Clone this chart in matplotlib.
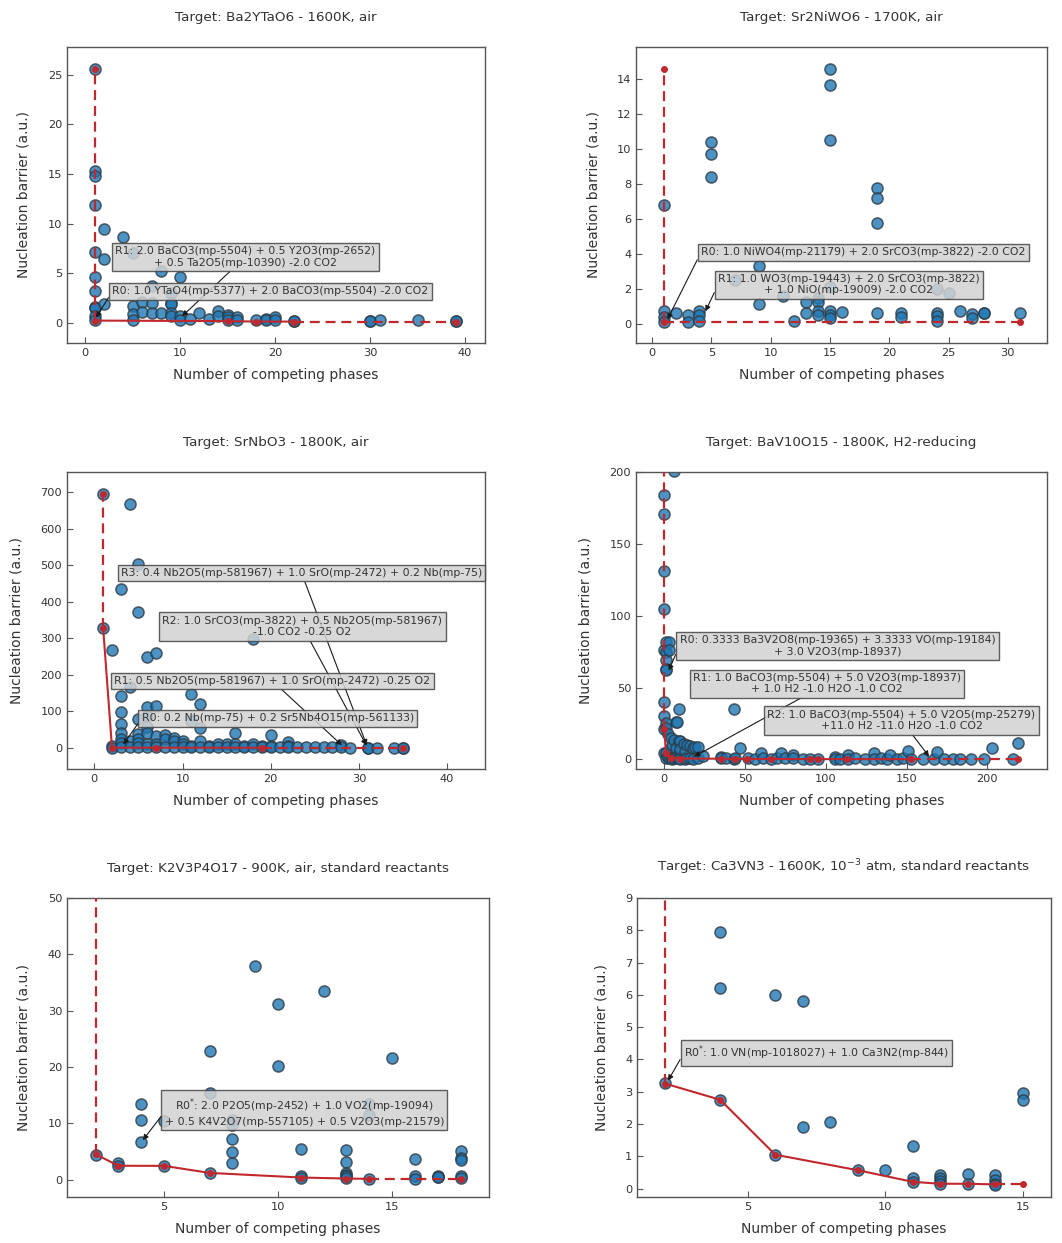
"""Nucleation barrier vs number of competing phases, six targets."""
import matplotlib
matplotlib.use("Agg")
import matplotlib.pyplot as plt
from matplotlib.ticker import MultipleLocator

plt.rcParams["font.family"] = ["DejaVu Sans"]

TXT = "#333333"
SPINE = "#555555"
BLUE = "#1f77b4"
RED = "#c0282d"

# ---- data: {number of competing phases: [nucleation barriers]} ----
P1_POINTS = {
    1: [25.6, 15.3, 14.8, 11.9, 7.2, 4.6, 3.2, 1.6, 1.5, 0.7, 0.3],
    2: [9.5, 6.5, 1.9], 4: [8.7], 5: [7.1, 1.7, 0.9, 0.3], 6: [2.1, 1.1],
    7: [3.7, 2.0, 1.0], 8: [5.2, 1.0], 9: [3.0, 2.0, 1.9, 1.0, 0.7],
    10: [4.6, 0.7, 0.3], 11: [0.4], 12: [1.0], 13: [0.4], 14: [1.2, 0.7],
    15: [0.8, 0.6, 0.3], 16: [0.6, 0.3], 18: [0.3], 19: [0.45, 0.3],
    20: [0.6, 0.3], 22: [0.25, 0.2], 30: [0.25, 0.2], 31: [0.35],
    35: [0.3], 39: [0.25, 0.2],
}
P1_FRONT_X = [1, 15, 18, 22]
P1_FRONT_Y = [0.25, 0.2, 0.15, 0.15]

P2_POINTS = {
    1: [6.8, 0.78, 0.42, 0.12], 2: [0.65], 3: [0.55, 0.12],
    4: [0.78, 0.55, 0.17], 5: [10.4, 9.73, 8.4], 7: [2.5], 9: [3.3, 1.18],
    11: [1.6], 12: [0.2], 13: [1.27, 0.65], 14: [1.48, 1.25, 0.74, 0.55],
    15: [14.55, 13.64, 10.5, 2.1, 0.74, 0.55, 0.36], 16: [0.68],
    19: [7.76, 7.2, 5.77, 0.63], 21: [0.65, 0.4], 24: [2.03, 0.65, 0.45, 0.2],
    25: [1.78], 26: [0.78], 27: [0.6, 0.34], 28: [0.65, 0.62], 31: [0.63],
}
P2_FRONT_X = [1]
P2_FRONT_Y = [0.15]

P3_POINTS = {
    1: [695, 327], 2: [268, 5, 0.5], 3: [436, 143, 97, 65, 42, 24, 12, 2],
    4: [668, 166, 20, 1], 5: [503, 372, 79, 38, 24, 12, 1],
    6: [248, 111, 88, 56, 42, 10, 1], 7: [259, 115, 33, 10, 1],
    8: [36, 24, 2], 9: [28, 19, 1], 10: [19, 10, 1], 11: [148, 74, 5, 1],
    12: [120, 53, 19, 1], 13: [5, 1], 14: [10, 1], 15: [10, 1],
    16: [40, 10, 1], 17: [4, 1], 18: [299, 10, 1], 19: [5, 1],
    20: [35, 5, 1], 21: [2], 22: [15, 5, 1], 23: [2], 24: [1], 25: [1],
    26: [1], 27: [2], 28: [8, 1], 29: [0.5], 31: [0.5, 0.3], 32: [0.5],
    34: [0.5], 35: [0.5, 0.3],
}
P3_FRONT_X = [1, 2, 7, 19]
P3_FRONT_Y = [327, 0.5, 0.4, 0.3]

P4_POINTS = {
    0: [184, 171, 131, 105, 76, 40, 30, 21, 4.4, 240],
    1: [82, 75, 69, 63, 62, 25, 22, 4.2, 1], 2: [18, 2], 3: [82, 76, 1],
    4: [15, 7.7, 1], 5: [10, 0.5], 6: [200.5, 13.6, 1], 7: [26, 8, 2],
    8: [26, 1], 9: [35, 12.5, 1], 10: [13, 7.2, 0.6], 12: [11, 1],
    13: [6, 0.5], 14: [10, 1], 16: [9.4, 1], 18: [7.7, 0.5], 19: [8.4],
    21: [8.5, 1], 24: [2.1], 35: [2, 0.7], 38: [1], 43: [35, 0.5], 44: [1],
    47: [7.7], 52: [1], 56: [0.5], 60: [4.7], 61: [1], 66: [0.5], 70: [1],
    72: [4.2], 75: [0.8], 80: [3, 1], 86: [0.5], 90: [0.5], 95: [0.3],
    106: [1.9, 0.5], 109: [0.5], 114: [3, 0.5], 118: [1], 124: [0.5],
    130: [4.2, 0.5], 134: [1], 138: [0.5], 140: [3], 144: [0.5], 148: [1],
    151: [6.1], 153: [0.3], 160: [0.5], 167: [0.5], 169: [5.4], 173: [0.3],
    179: [0.5], 183: [0.3], 190: [0.3], 198: [0.3], 203: [7.7], 216: [0.3],
    219: [11.3],
}
P4_FRONT_X = [0, 1, 4, 10, 35, 44, 51, 66, 90, 95, 113, 153]
P4_FRONT_Y = [21.5, 4.5, 1.0, 0.6, 0.5, 0.4, 0.35, 0.3, 0.25, 0.2, 0.2, 0.15]

P5_POINTS = {
    2: [4.4], 3: [3.0, 2.4, 62], 4: [13.4, 10.5, 6.6], 5: [10.4, 2.4],
    7: [22.9, 15.3, 1.2], 8: [10.5, 9.6, 7.2, 4.9, 2.9], 9: [38.0],
    10: [31.2, 20.1], 11: [5.4, 0.6, 0.3], 12: [33.5],
    13: [5.3, 3.1, 1.1, 0.8, 0.6, 0.2], 14: [13.5, 11.4, 0.18], 15: [21.6],
    16: [3.6, 0.6, 0.1], 17: [0.6, 0.5, 0.4], 18: [5.0, 3.9, 3.4, 0.6, 0.2],
}
P5_FRONT_X = [2, 3, 5, 7, 11, 13, 14]
P5_FRONT_Y = [4.5, 2.45, 2.43, 1.18, 0.36, 0.18, 0.12]

P6_POINTS = {
    2: [3.27, 11.5], 4: [7.95, 6.22, 2.74], 6: [6.0, 1.05], 7: [5.8, 1.9],
    8: [2.06], 9: [0.59], 10: [0.59], 11: [1.31, 0.33, 0.19],
    12: [0.43, 0.33, 0.23, 0.15], 13: [0.44, 0.15],
    14: [0.43, 0.28, 0.15, 0.12], 15: [2.97, 2.73],
}
P6_FRONT_X = [2, 4, 6, 9, 11, 12, 13, 14]
P6_FRONT_Y = [3.25, 2.75, 1.05, 0.57, 0.21, 0.15, 0.15, 0.13]

TITLES = [
    "Target: Ba2YTaO6 - 1600K, air",
    "Target: Sr2NiWO6 - 1700K, air",
    "Target: SrNbO3 - 1800K, air",
    "Target: BaV10O15 - 1800K, H2-reducing",
    "Target: K2V3P4O17 - 900K, air, standard reactants",
    "Target: Ca3VN3 - 1600K, 10$^{-3}$ atm, standard reactants",
]

P1_LABELS = [
    "R1: 2.0 BaCO3(mp-5504) + 0.5 Y2O3(mp-2652)\n+ 0.5 Ta2O5(mp-10390) -2.0 CO2",
    "R0: 1.0 YTaO4(mp-5377) + 2.0 BaCO3(mp-5504) -2.0 CO2",
]
P2_LABELS = [
    "R0: 1.0 NiWO4(mp-21179) + 2.0 SrCO3(mp-3822) -2.0 CO2",
    "R1: 1.0 WO3(mp-19443) + 2.0 SrCO3(mp-3822)\n+ 1.0 NiO(mp-19009) -2.0 CO2",
]
P3_LABELS = [
    "R3: 0.4 Nb2O5(mp-581967) + 1.0 SrO(mp-2472) + 0.2 Nb(mp-75)",
    "R2: 1.0 SrCO3(mp-3822) + 0.5 Nb2O5(mp-581967)\n-1.0 CO2 -0.25 O2",
    "R1: 0.5 Nb2O5(mp-581967) + 1.0 SrO(mp-2472) -0.25 O2",
    "R0: 0.2 Nb(mp-75) + 0.2 Sr5Nb4O15(mp-561133)",
]
P4_LABELS = [
    "R0: 0.3333 Ba3V2O8(mp-19365) + 3.3333 VO(mp-19184)\n+ 3.0 V2O3(mp-18937)",
    "R1: 1.0 BaCO3(mp-5504) + 5.0 V2O3(mp-18937)\n+ 1.0 H2 -1.0 H2O -1.0 CO2",
    "R2: 1.0 BaCO3(mp-5504) + 5.0 V2O5(mp-25279)\n+11.0 H2 -11.0 H2O -1.0 CO2",
]
P5_LABELS = [
    "R0$^{*}$: 2.0 P2O5(mp-2452) + 1.0 VO2(mp-19094)\n+ 0.5 K4V2O7(mp-557105) + 0.5 V2O3(mp-21579)",
]
P6_LABELS = [
    "R0$^{*}$: 1.0 VN(mp-1018027) + 1.0 Ca3N2(mp-844)",
]

# ---- layout: axes rect, limits, tick steps, annotation (target, text centre, relpos)
PANELS = [
    dict(points=P1_POINTS, front=(P1_FRONT_X, P1_FRONT_Y), labels=P1_LABELS,
         rect=[0.0631, 0.7241, 0.3936, 0.2381], xlim=(-1.9, 42.1), ylim=(-2.0, 27.8),
         steps=(10, 5),
         ann=[((10, 0.5), (16.9, 6.67), (0.5, 0.5)),
              ((1, 0.3), (19.5, 3.18), (0, 0.5))]),
    dict(points=P2_POINTS, front=(P2_FRONT_X, P2_FRONT_Y), labels=P2_LABELS,
         rect=[0.5989, 0.7241, 0.3870, 0.2381], xlim=(-1.35, 33.3), ylim=(-1.06, 15.8),
         steps=(5, 2),
         ann=[((1.2, 0.15), (17.8, 4.1), (0, 0.5)),
              ((4.4, 0.6), (16.6, 2.26), (0, 0.5))]),
    dict(points=P3_POINTS, front=(P3_FRONT_X, P3_FRONT_Y), labels=P3_LABELS,
         rect=[0.0631, 0.3813, 0.3936, 0.2390], xlim=(-3.1, 44.3), ylim=(-58, 755),
         steps=(10, 100),
         ann=[((31, 0), (23.5, 478), (0.5, 0.5)),
              ((31, 0), (23.6, 332), (0.5, 0.5)),
              ((28.3, 2), (20.2, 183), (0.5, 0.5)),
              ((3.1, 3), (20.8, 80.6), (0, 0.5))]),
    dict(points=P4_POINTS, front=(P4_FRONT_X, P4_FRONT_Y), labels=P4_LABELS,
         rect=[0.5989, 0.3813, 0.3870, 0.2390], xlim=(-17.5, 237), ylim=(-6.7, 200),
         steps=(50, 50),
         ann=[((2, 60), (107.2, 79.1), (0, 0.5)),
              ((17, 1), (100.8, 52.7), (0.5, 0.5)),
              ((165, 0.5), (146.9, 27.1), (0.5, 0.5))]),
    dict(points=P5_POINTS, front=(P5_FRONT_X, P5_FRONT_Y), labels=P5_LABELS,
         rect=[0.0631, 0.0370, 0.3974, 0.2406], xlim=(0.75, 19.25), ylim=(-3.1, 50),
         steps=(5, 10),
         ann=[((4, 6.6), (11.16, 12.07), (0, 0.5))]),
    dict(points=P6_POINTS, front=(P6_FRONT_X, P6_FRONT_Y), labels=P6_LABELS,
         rect=[0.5998, 0.0370, 0.3898, 0.2406], xlim=(0.97, 16.03), ylim=(-0.26, 9),
         steps=(5, 1),
         ann=[((2.05, 3.27), (7.5, 4.2), (0, 0.5))]),
]


def expand(points):
    xs, ys = [], []
    for x, vals in points.items():
        xs += [x] * len(vals)
        ys += vals
    return xs, ys


def draw_panel(ax, title, p):
    xs, ys = expand(p["points"])
    ax.scatter(xs, ys, s=64, c=BLUE, alpha=0.8, edgecolors="#2e3b44",
               linewidths=1.1, zorder=2)

    fx, fy = p["front"]
    dash = (0, (4.5, 2.6))
    ax.plot(fx, fy, "-", color=RED, lw=1.5, marker="o", ms=4, zorder=3)
    ax.plot([fx[0], fx[0]], [fy[0], max(ys)], ls=dash, color=RED, lw=1.6, zorder=3)
    ax.plot([fx[0]], [max(ys)], "o", color=RED, ms=4, zorder=3)
    ax.plot([fx[-1], max(xs)], [fy[-1], fy[-1]], ls=dash, color=RED, lw=1.6, zorder=3)
    ax.plot([max(xs)], [fy[-1]], "o", color=RED, ms=4, zorder=3)

    for label, (xy, xytext, relpos) in zip(p["labels"], p["ann"]):
        ax.annotate(label, xy=xy, xytext=xytext, ha="center", va="center",
                    multialignment="center", fontsize=7.8, color=TXT, zorder=5,
                    bbox=dict(boxstyle="square,pad=0.3", fc="#d2d2d2", ec="#444444",
                              lw=1.0, alpha=0.85),
                    arrowprops=dict(arrowstyle="-|>", color="#1a1a1a", lw=0.8,
                                    mutation_scale=8, relpos=relpos,
                                    shrinkA=0, shrinkB=2))

    ax.set_xlim(*p["xlim"])
    ax.set_ylim(*p["ylim"])
    ax.xaxis.set_major_locator(MultipleLocator(p["steps"][0]))
    ax.yaxis.set_major_locator(MultipleLocator(p["steps"][1]))
    ax.tick_params(direction="in", length=4, width=0.8, colors=SPINE,
                   labelcolor=TXT, labelsize=8.2)
    for sp in ax.spines.values():
        sp.set_color(SPINE)
        sp.set_linewidth(1.0)
    ax.set_title(title, fontsize=9.7, color=TXT, pad=19)
    ax.set_xlabel("Number of competing phases", fontsize=10, color=TXT, labelpad=7)
    ax.set_ylabel("Nucleation barrier (a.u.)", fontsize=10, color=TXT, labelpad=12)


def main():
    fig = plt.figure(figsize=(10.62, 12.43), dpi=100)
    for title, p in zip(TITLES, PANELS):
        ax = fig.add_axes(p["rect"])
        draw_panel(ax, title, p)
    fig.savefig("out.png", dpi=100)
    plt.close(fig)


if __name__ == "__main__":
    main()
